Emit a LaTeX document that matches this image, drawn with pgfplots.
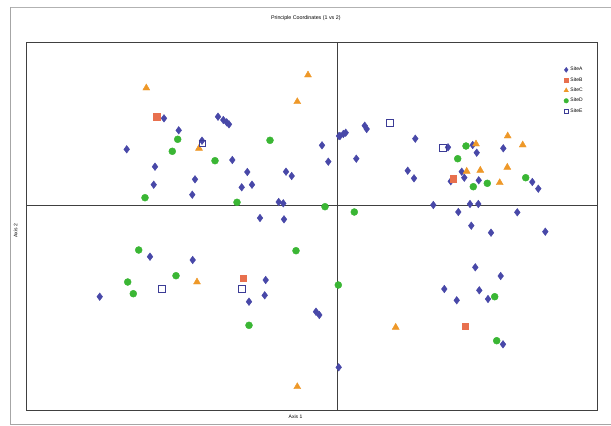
\documentclass[border=0pt]{standalone}
\usepackage{pgfplots}
\pgfplotsset{compat=1.18}
\usepackage{fontspec}
\setmainfont{Liberation Sans}
\definecolor{cA}{RGB}{72,72,168}
\definecolor{cB}{RGB}{232,112,78}
\definecolor{cC}{RGB}{238,152,40}
\definecolor{cD}{RGB}{58,182,52}
\definecolor{cE}{RGB}{60,60,150}
\begin{document}
\begin{tikzpicture}[x=1pt,y=1pt]
\path[use as bounding box] (0,0) rectangle (611,426);
\draw[gray!70,line width=0.6pt] (10.5,419) -- (10.5,1.5) -- (611,1.5);
\draw[gray!60,line width=0.6pt] (10.5,419) -- (611,419);
\begin{axis}[at={(26pt,16pt)},anchor=south west,scale only axis,
  width=571pt,height=368pt,
  xmin=26,xmax=597,ymin=42,ymax=410,y dir=reverse,
  xtick=\empty,ytick=\empty,
  axis line style={black!75,line width=0.7pt},
  title={Principle Coordinates (1 vs 2)},
  title style={font=\fontsize{5.3}{6}\selectfont,at={(0.49,1)},yshift=12pt,anchor=south},
  xlabel={Axis 1},ylabel={Axis 2},
  xlabel style={font=\fontsize{5}{6}\selectfont,at={(0.5,0)},anchor=north,yshift=-1pt,xshift=-16pt},
  ylabel style={font=\fontsize{5}{6}\selectfont,at={(0,0.5)},anchor=south,yshift=5pt,xshift=-5pt},
  legend style={draw=none,fill=none,font=\fontsize{5}{6}\selectfont,
    at={(0.94,0.94)},anchor=north west,row sep=1.2pt,inner sep=1pt},
  legend cell align=left,
  legend image post style={scale=0.65},
  clip=false]
\addplot[only marks,mark=diamond*,mark size=3.8pt,color=cA] coordinates {
(164,118.3)(178.7,130.3)(218,116.7)(223.3,120)(226.7,122.3)(229,124.3)
(202,140.7)(126.7,149.3)(322,145.3)(328.3,161.7)(339,136)(155,166.7)
(232.3,160)(247.3,172)(286,171.7)(291.7,176)(195,179.3)(153.7,184.7)
(241.7,187.3)(252,184.7)(192.3,194.7)(278.7,202)(283.3,203.3)(260,218)
(284,219.3)(340,136)(343.3,134)(345.7,132.7)(364.7,125.7)(366.7,129)
(415.3,138.7)(356.3,158.7)(448,147.3)(472.7,145)(476.7,152.7)(503.3,148.3)
(407.7,170.7)(414,178.3)(461.7,171.7)(450.7,181.3)(464.3,177.7)(478.7,180.3)
(532.3,182)(538.3,188.7)(433.3,205)(470,204)(478.3,204)(458.3,212)
(517.3,212.3)(150,256.7)(192.7,260)(99.7,296.7)(265.7,280)(264.7,295.3)
(249,301.7)(316,311.7)(319.3,315)(338.7,367.3)(471.3,225.7)(491,232.7)
(545.3,231.7)(475.3,267.3)(500.7,276)(444.3,289)(479.3,290.3)(456.7,300.3)
(488,299)(503,344.3)
};
\addlegendentry{SiteA}
\addplot[only marks,mark=square*,mark size=3.3pt,color=cB] coordinates {
(156.7,116.7)(453.3,178.7)(243.3,278)(465,326)
};
\addlegendentry{SiteB}
\addplot[only marks,mark=triangle*,mark size=4pt,color=cC] coordinates {
(146.3,88)(308,75)(297.3,101.7)(199,148.3)(476,144)(507.7,136)(522.7,145)
(466.7,171.3)(480.3,170.3)(507.3,167.3)(499.7,182.7)(197,282)(395.7,327.3)(297.3,386.7)
};
\addlegendentry{SiteC}
\addplot[only marks,mark=*,mark size=3.5pt,color=cD] coordinates {
(177.7,139.3)(270,140.3)(172.3,151.3)(215,160.7)(145,197.7)(237,202.3)
(325,206.7)(466,146)(457.7,158.7)(473.3,186.7)(487.3,183.3)(525.7,177.7)
(354.3,212)(138.7,250)(296,250.7)(176,275.7)(127.7,282)(133.3,293.7)
(249,325.3)(338.3,285)(494.7,296.7)(496.7,340.7)
};
\addlegendentry{SiteD}
\addplot[only marks,mark=square,mark size=3.4pt,color=cE,line width=0.8pt,mark options={fill=white}] coordinates {
(202.3,143.3)(389.7,122.7)(442.7,148)(162,289)(241.7,289)
};
\addlegendentry{SiteE}
\draw[black!75,line width=0.6pt] (axis cs:337,42) -- (axis cs:337,410);
\draw[black!75,line width=0.6pt] (axis cs:26,205) -- (axis cs:597,205);
\end{axis}
\end{tikzpicture}
\end{document}
